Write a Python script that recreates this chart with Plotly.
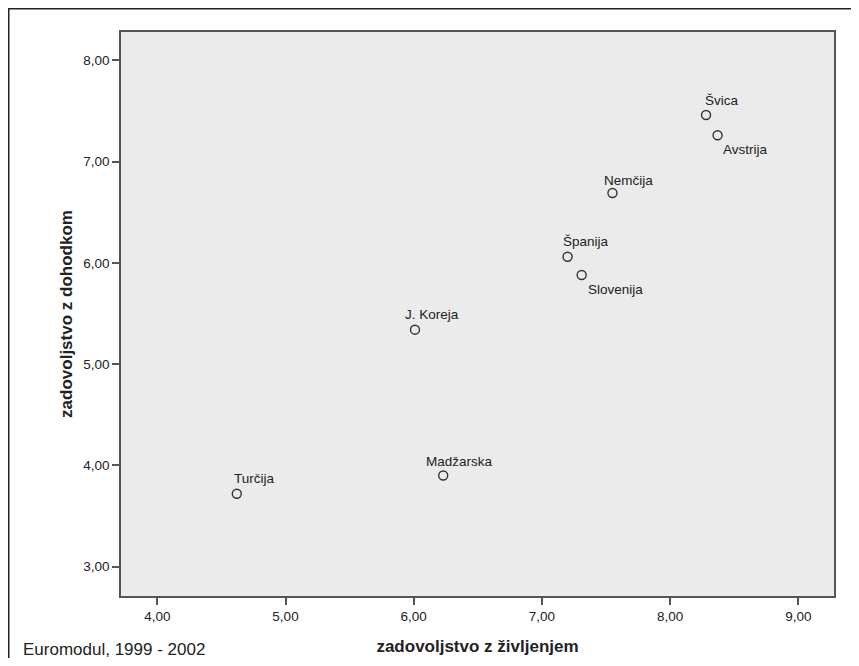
import plotly.graph_objects as go

# data
countries = ["Švica", "Avstrija", "Nemčija", "Španija", "Slovenija",
             "J. Koreja", "Madžarska", "Turčija"]
life_sat = [8.28, 8.37, 7.55, 7.20, 7.31, 6.01, 6.23, 4.62]
income_sat = [7.46, 7.26, 6.69, 6.06, 5.88, 5.34, 3.90, 3.72]

# label offsets in px (left edge of label relative to marker, vertical shift)
label_dx = [-2, 4, -9, -6, 5, -11, -18, -4]
label_dy = [15, -14, 13, 15, -14, 15, 14, 15]

# the page adds an 8px body margin on each side, so keep the figure inside it
W, H = 843, 650
L, R, T, B = 113, 17, 24, 62
pw, ph = W - L - R, H - T - B

fig = go.Figure()
fig.add_trace(go.Scatter(
    x=life_sat, y=income_sat, mode="markers",
    marker=dict(symbol="circle-open", size=9, color="#333333",
                line=dict(width=1.4, color="#333333")),
    hoverinfo="text", text=countries, showlegend=False,
))

for c, xv, yv, dx, dy in zip(countries, life_sat, income_sat, label_dx, label_dy):
    fig.add_annotation(x=xv, y=yv, text=c, showarrow=False,
                       xanchor="left", yanchor="middle", xshift=dx, yshift=dy,
                       borderpad=0,
                       font=dict(family="Liberation Sans, Arial", size=13.5, color="#222222"))

fig.add_annotation(xref="paper", yref="paper",
                   x=(13 - L) / pw, y=-(641 - T - ph) / ph,
                   text="Euromodul, 1999 - 2002", showarrow=False,
                   xanchor="left", yanchor="middle",
                   font=dict(family="Liberation Sans, Arial", size=17, color="#222222"))

# outer frame of the figure (left and top edges visible)
fig.add_shape(type="rect", xref="paper", yref="paper",
              x0=(0.75 - L) / pw, x1=(W + 20 - L) / pw,
              y0=-(H + 20 - T - ph) / ph, y1=1 + (T - 0.75) / ph,
              line=dict(color="#222222", width=1.5), layer="below")

axis_common = dict(
    showgrid=False, zeroline=False, showline=True, mirror=True,
    linecolor="#555555", linewidth=1.5,
    ticks="outside", ticklen=7, tickwidth=1.5, tickcolor="#555555",
    tickformat=".2f", dtick=1,
    tickfont=dict(family="Liberation Sans, Arial", size=13.5, color="#222222"),
)

fig.update_xaxes(range=[3.717, 9.278], tick0=4,
                 title=dict(text="zadovoljstvo z življenjem", standoff=17,
                            font=dict(family="Liberation Sans, Arial", size=17,
                                      color="#222222", weight="bold")),
                 **axis_common)
fig.update_yaxes(range=[2.71, 8.28], tick0=3,
                 title=dict(text="zadovoljstvo z dohodkom", standoff=6,
                            font=dict(family="Liberation Sans, Arial", size=17,
                                      color="#222222", weight="bold")),
                 **axis_common)

fig.update_layout(
    width=W, height=H,
    margin=dict(l=L, r=R, t=T, b=B, autoexpand=False),
    paper_bgcolor="white", plot_bgcolor="#EBEBEB",
    separators=",.",
    font=dict(family="Liberation Sans, Arial"),
)

fig.write_html("out.html")
